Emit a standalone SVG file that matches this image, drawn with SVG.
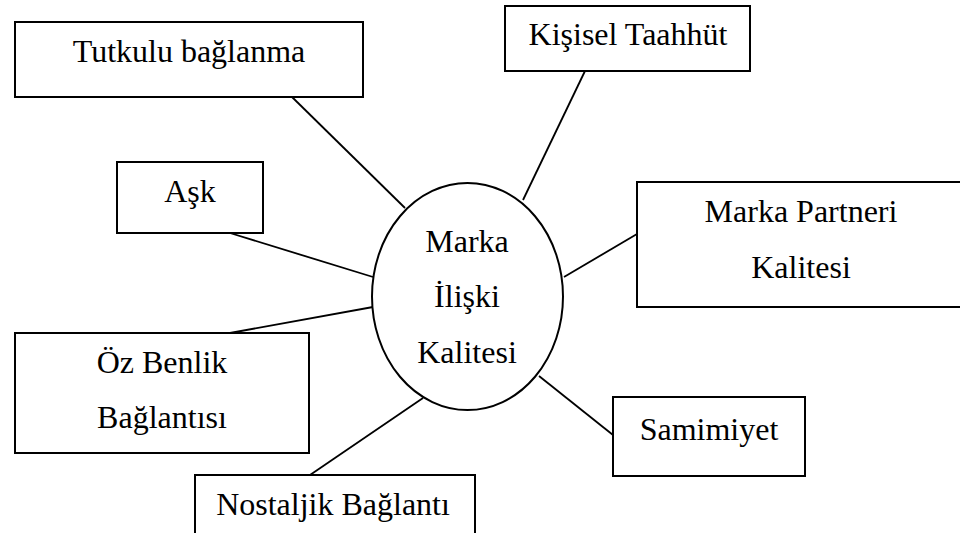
<svg xmlns="http://www.w3.org/2000/svg" width="960" height="533" viewBox="0 0 960 533">
<rect width="960" height="533" fill="#fff"/>
<g id="connectors" stroke="#000" stroke-width="1.8" fill="none">
<line x1="292" y1="97" x2="405" y2="208"/>
<line x1="585" y1="71" x2="523" y2="200"/>
<line x1="230" y1="233" x2="373" y2="277"/>
<line x1="637" y1="234" x2="564" y2="277"/>
<line x1="230" y1="333" x2="373" y2="307"/>
<line x1="613" y1="435" x2="539" y2="376"/>
<line x1="310" y1="475" x2="423" y2="398"/>
</g>
<g id="center">
<ellipse cx="467.5" cy="296.5" rx="95.5" ry="113.5" fill="#fff" stroke="#000" stroke-width="2"/>
<text x="467" y="252" style="font-family:'Liberation Serif';font-size:32px;text-anchor:middle">Marka</text>
<text x="467" y="307" style="font-family:'Liberation Serif';font-size:32px;text-anchor:middle">İlişki</text>
<text x="467" y="363" style="font-family:'Liberation Serif';font-size:32px;text-anchor:middle">Kalitesi</text>
</g>
<g id="tutkulu">
<rect x="15" y="22" width="348" height="75" fill="#fff" stroke="#000" stroke-width="2"/>
<text x="189" y="62" style="font-family:'Liberation Serif';font-size:32px;text-anchor:middle">Tutkulu bağlanma</text>
</g>
<g id="kisisel">
<rect x="505" y="6" width="245" height="65" fill="#fff" stroke="#000" stroke-width="2"/>
<text x="628" y="45" style="font-family:'Liberation Serif';font-size:32px;text-anchor:middle">Kişisel Taahhüt</text>
</g>
<g id="ask">
<rect x="117" y="162" width="146" height="71" fill="#fff" stroke="#000" stroke-width="2"/>
<text x="190" y="202" style="font-family:'Liberation Serif';font-size:32px;text-anchor:middle">Aşk</text>
</g>
<g id="partner">
<rect x="637" y="182" width="330" height="125" fill="#fff" stroke="#000" stroke-width="2"/>
<text x="801" y="222" style="font-family:'Liberation Serif';font-size:32px;text-anchor:middle">Marka Partneri</text>
<text x="801" y="278" style="font-family:'Liberation Serif';font-size:32px;text-anchor:middle">Kalitesi</text>
</g>
<g id="ozbenlik">
<rect x="15" y="333" width="294" height="120" fill="#fff" stroke="#000" stroke-width="2"/>
<text x="162" y="373" style="font-family:'Liberation Serif';font-size:32px;text-anchor:middle">Öz Benlik</text>
<text x="162" y="428" style="font-family:'Liberation Serif';font-size:32px;text-anchor:middle">Bağlantısı</text>
</g>
<g id="samimiyet">
<rect x="613" y="397" width="192" height="79" fill="#fff" stroke="#000" stroke-width="2"/>
<text x="709" y="440" style="font-family:'Liberation Serif';font-size:32px;text-anchor:middle">Samimiyet</text>
</g>
<g id="nostaljik">
<rect x="195" y="475" width="280" height="70" fill="#fff" stroke="#000" stroke-width="2"/>
<text x="333" y="515" style="font-family:'Liberation Serif';font-size:32px;text-anchor:middle">Nostaljik Bağlantı</text>
</g>
</svg>
